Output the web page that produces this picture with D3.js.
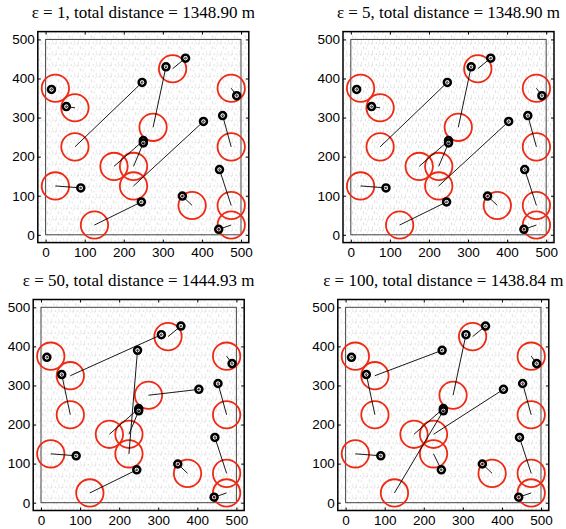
<!DOCTYPE html>
<html lang="en">
<head>
    <meta charset="UTF-8">
    <title>Assignment</title>
    <script src="https://d3js.org/d3.v7.min.js"></script>
    <style>
        body { margin: 0; background: #fff; }
        .tick text { font-family: "Liberation Sans", Arial, sans-serif; font-size: 13.5px; fill: #000; }
        .title { font-family: "Liberation Serif", "Times New Roman", serif; font-size: 17px; }
    </style>
</head>
<body>
    <svg width="566" height="529"></svg>
</body>
<script>
    // targets (red circles) and agents (black markers), metres
    let targetX = [25, 75, 75, 25, 125, 175, 225, 225, 275, 325, 375, 475, 475, 475, 475]
    let targetY = [375, 325, 225, 125, 25, 175, 175, 125, 275, 425, 75, 375, 225, 75, 25]
    let agentX = [15, 53, 247, 308, 358, 489, 453, 404, 250, 250, 90, 245, 350, 445, 443]
    let agentY = [372, 328, 390, 430, 452, 356, 305, 290, 241, 235, 120, 84, 99, 167, 14]
    let targetRadius = 35

    // which target each agent goes to, one list per panel
    let epsilons = [1, 5, 50, 100]
    let totalDistances = ['1348.90', '1348.90', '1444.93', '1438.84']
    let assignments = [
        [0, 1, 2, 8, 9, 11, 12, 7, 5, 6, 3, 4, 10, 13, 14],
        [0, 1, 2, 8, 9, 11, 12, 7, 5, 6, 3, 4, 10, 13, 14],
        [0, 2, 7, 1, 9, 11, 12, 8, 5, 6, 3, 4, 10, 13, 14],
        [0, 2, 1, 8, 9, 11, 12, 6, 5, 4, 3, 7, 10, 13, 14]
    ]
    let tickValues = [0, 100, 200, 300, 400, 500]

    let svg = d3.select('svg')
    let size = 211
    let panelPos = [[37.8, 31.6], [343, 31.6], [33.2, 299.5], [337.8, 299.5]]

    let x = d3.scaleLinear().domain([-20, 520]).range([0, size])
    let y = d3.scaleLinear().domain([-20, 520]).range([size, 0])

    // speckled background texture
    let defs = svg.append('defs')
    let pat = defs.append('pattern')
        .attr('id', 'speckle')
        .attr('patternUnits', 'userSpaceOnUse')
        .attr('width', 11).attr('height', 11)
    pat.append('circle')
        .attr('cx', 5.5).attr('cy', 5.5).attr('r', 4.2)
        .attr('fill', 'none')
        .attr('stroke', '#a4a4a4')
        .attr('stroke-width', 0.8)
        .attr('stroke-dasharray', '0.8 3.2')
    pat.append('line')
        .attr('x1', 0).attr('y1', 0.5).attr('x2', 11).attr('y2', 0.5)
        .attr('stroke', '#a8a8a8')
        .attr('stroke-width', 0.8)
        .attr('stroke-dasharray', '0.8 2.8')

    let agents = agentX.map((d, i) => ({x: d, y: agentY[i]}))
    let targets = targetX.map((d, i) => ({x: d, y: targetY[i]}))

    panelPos.forEach((p, k) => {
        let g = svg.append('g').attr('transform', `translate(${p[0]},${p[1]})`)

        g.append('rect')
            .attr('width', size).attr('height', size)
            .attr('fill', 'url(#speckle)')

        g.append('rect')
            .attr('x', x(0)).attr('y', y(500))
            .attr('width', x(500) - x(0)).attr('height', y(0) - y(500))
            .attr('fill', 'none')
            .attr('stroke', '#444')
            .attr('stroke-width', 1)

        g.selectAll('circle.target')
            .data(targets)
            .join('circle')
            .classed('target', true)
            .attr('cx', d => x(d.x))
            .attr('cy', d => y(d.y))
            .attr('r', x(targetRadius) - x(0))
            .attr('fill', 'none')
            .attr('stroke', '#ee2a14')
            .attr('stroke-width', 1.8)

        g.selectAll('line.route')
            .data(agents)
            .join('line')
            .classed('route', true)
            .attr('x1', d => x(d.x))
            .attr('y1', d => y(d.y))
            .attr('x2', (d, i) => x(targets[assignments[k][i]].x))
            .attr('y2', (d, i) => y(targets[assignments[k][i]].y))
            .attr('stroke', '#000')
            .attr('stroke-width', 0.9)

        let m = g.selectAll('g.agent')
            .data(agents)
            .join('g')
            .classed('agent', true)
            .attr('transform', d => `translate(${x(d.x)},${y(d.y)})`)
        m.append('circle')
            .attr('r', 3.4)
            .attr('fill', 'none')
            .attr('stroke', '#000')
            .attr('stroke-width', 2.7)
        m.append('circle')
            .attr('r', 1.7)
            .attr('fill', 'none')
            .attr('stroke', '#fff')
            .attr('stroke-width', 0.7)
        m.append('circle')
            .attr('r', 0.9)
            .attr('fill', 'none')
            .attr('stroke', '#000')
            .attr('stroke-width', 0.7)

        // axes, ticks inside on all four sides
        g.append('g').attr('transform', `translate(0,${size})`)
            .call(d3.axisBottom(x).tickValues(tickValues).tickSizeInner(-3).tickSizeOuter(0).tickPadding(5))
        g.append('g')
            .call(d3.axisTop(x).tickValues(tickValues).tickSizeInner(-3).tickSizeOuter(0).tickFormat(''))
        g.append('g')
            .call(d3.axisLeft(y).tickValues(tickValues).tickSizeInner(-3).tickSizeOuter(0).tickPadding(3))
        g.append('g').attr('transform', `translate(${size},0)`)
            .call(d3.axisRight(y).tickValues(tickValues).tickSizeInner(-3).tickSizeOuter(0).tickFormat(''))
        g.selectAll('.domain').remove()

        g.append('rect')
            .attr('width', size).attr('height', size)
            .attr('fill', 'none')
            .attr('stroke', '#000')
            .attr('stroke-width', 1.5)

        svg.append('text')
            .classed('title', true)
            .attr('x', p[0] + size / 2)
            .attr('y', p[1] - 13.3)
            .attr('text-anchor', 'middle')
            .text(`ε = ${epsilons[k]}, total distance = ${totalDistances[k]} m`)
    })
</script>
</html>
